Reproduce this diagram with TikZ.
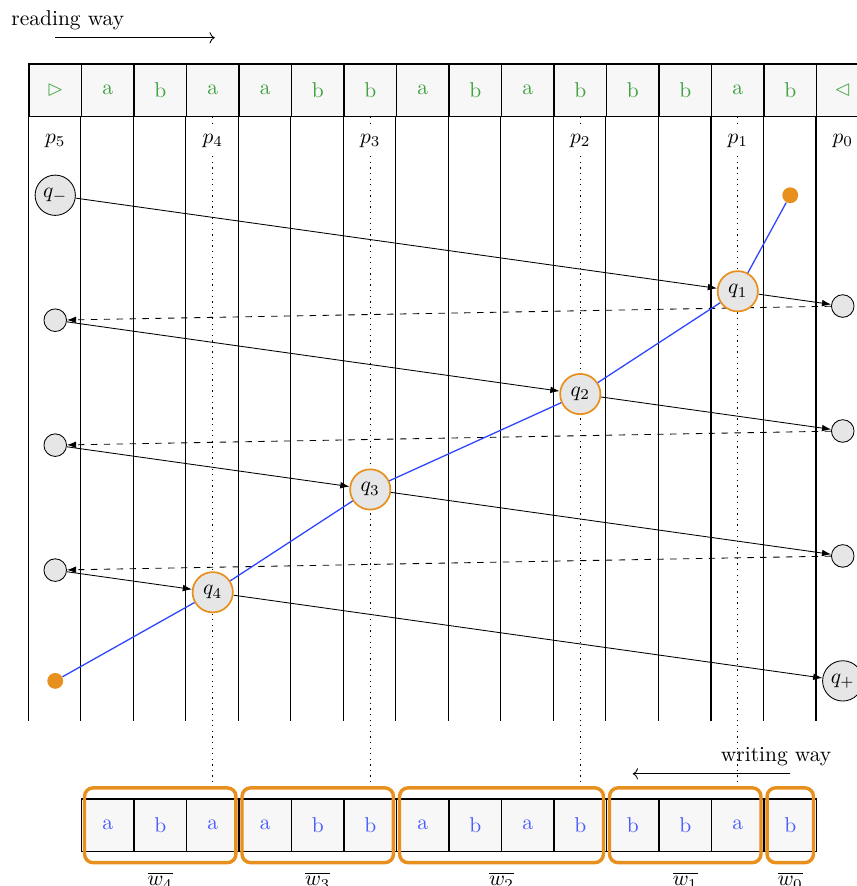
\documentclass[tikz,border=0pt]{standalone}
\usepackage{amsmath,amssymb}
\usepackage{xcolor}
\usepackage{tikz}
\usetikzlibrary{calc,arrows.meta,positioning,backgrounds}
\definecolor{letg}{HTML}{3FA33F}
\definecolor{letb}{HTML}{4A5CFF}
\definecolor{runb}{HTML}{2E45FF}
\definecolor{orng}{HTML}{E8901E}
\definecolor{cellbg}{HTML}{F7F7F7}
\definecolor{stbg}{HTML}{E6E6E6}
\tikzset{
  ar/.style={-{Latex[length=1.5mm,width=1.1mm]}},
  cell/.style={draw,semithick,fill=cellbg,minimum size=0.86cm,inner sep=0pt},
  st/.style={circle,draw,fill=stbg,minimum size=6.6mm,inner sep=0pt},
  sm/.style={circle,draw,fill=stbg,minimum size=3.7mm,inner sep=0pt},
  qst/.style={st,draw=orng,thick},
  dt/.style={circle,fill=orng,minimum size=2.6mm,inner sep=0pt},
  grp/.style={draw=orng,line width=1.6pt,rounded corners=4pt}
}

\begin{document}
\begin{tikzpicture}[x=0.86cm,y=0.86cm]
\useasboundingbox (-0.552,1.219) rectangle (15.771,-15.657);
% input tape
\foreach \i/\s in {0/{$\vartriangleright$},1/a,2/b,3/a,4/a,5/b,6/b,7/a,8/b,9/a,10/b,11/b,12/b,13/a,14/b,15/{$\vartriangleleft$}}
 \node[cell,text=letg] (c\i) at (\i+0.5,-0.5) {\s};
\foreach \i in {0,...,15}
 \draw[semithick] (c\i.south west) -- ++(0,-11.5);
\draw[semithick] (c15.south east) -- ++(0,-11.5);
\foreach \i in {3,6,10,13}
 \draw[dotted,semithick] (c\i.south) -- ++(0,-12.73);
\foreach \i/\k in {0/5,3/4,6/3,10/2,13/1,15/0}
 \node[fill=white] (p\k) at (\i+0.5,-1.467) {$p_{\k}$};
\node (rd) at (0.74,0.84) {reading way};
\coordinate (ra) at (0.5,0.5);
\coordinate (rb) at (3.54,0.5);
\draw[->] (ra) -- (rb);
% states
\node[st] (qm) at (0.5,-2.5) {$q_-$};
\node[sm] (l1) at (0.5,-4.88) {};
\node[sm] (l2) at (0.5,-7.26) {};
\node[sm] (l3) at (0.5,-9.64) {};
\node[sm] (r1) at (15.5,-4.61) {};
\node[sm] (r2) at (15.5,-6.99) {};
\node[sm] (r3) at (15.5,-9.37) {};
\node[st] (qp) at (15.5,-11.75) {$q_+$};
\node[qst] (q1) at ($(qm)!0.8667!(r1)$) {$q_1$};
\node[qst] (q2) at ($(l1)!0.6667!(r2)$) {$q_2$};
\node[qst] (q3) at ($(l2)!0.4!(r3)$) {$q_3$};
\node[qst] (q4) at ($(l3)!0.2!(qp)$) {$q_4$};
\node[dt] (s) at (14.5,-2.5) {};
\node[dt] (e) at (0.5,-11.75) {};
\begin{pgfonlayer}{background}
\draw[ar] (qm) -- (q1);
\draw[ar] (q1) -- (r1);
\draw[ar,dashed] (r1) -- (l1);
\draw[ar] (l1) -- (q2);
\draw[ar] (q2) -- (r2);
\draw[ar,dashed] (r2) -- (l2);
\draw[ar] (l2) -- (q3);
\draw[ar] (q3) -- (r3);
\draw[ar,dashed] (r3) -- (l3);
\draw[ar] (l3) -- (q4);
\draw[ar] (q4) -- (qp);
\end{pgfonlayer}
\draw[runb,semithick] (s) -- (q1) -- (q2) -- (q3) -- (q4) -- (e);
% output tape
\foreach \i/\s in {1/a,2/b,3/a,4/a,5/b,6/b,7/a,8/b,9/a,10/b,11/b,12/b,13/a,14/b}
 \node[cell,text=letb] (d\i) at (\i+0.5,-14.5) {\s};
\foreach \a/\b/\n in {1/3/4,4/6/3,7/10/2,11/13/1,14/14/0}{
 \draw[grp] ($(d\a.north west)+(0.07,0.2)$) rectangle ($(d\b.south east)+(-0.07,-0.2)$);
 \node[below] (w\n) at ($(d\a.south west)!0.5!(d\b.south east)+(0,-0.24)$) {$\overline{w_{\n}}$};}
\node (wr) at (14.23,-13.2) {writing way};
\coordinate (wa) at (14.5,-13.52);
\coordinate (wb) at (11.5,-13.52);
\draw[->] (wa) -- (wb);
\end{tikzpicture}
\end{document}
